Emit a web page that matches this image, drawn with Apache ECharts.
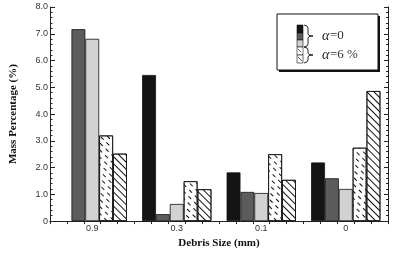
<!DOCTYPE html>
<html>
<head>
<meta charset="utf-8">
<script src="https://cdn.jsdelivr.net/npm/echarts@6/dist/echarts.min.js"></script>
<style>
  html, body { margin: 0; padding: 0; background: #fff; }
  #app { width: 394px; height: 254px; }
</style>
</head>
<body>
<div id="app"></div>
<script>
const categories = ['0.9', '0.3', '0.1', '0']
const black = [null, 5.46, 1.82, 2.19]
const darkGray = [7.17, 0.26, 1.09, 1.6]
const lightGray = [6.81, 0.64, 1.05, 1.2]
const dashHatch = [3.2, 1.49, 2.5, 2.74]
const diagHatch = [2.52, 1.19, 1.54, 4.86]
const yTickLabels = ['0', '1.0', '2.0', '3.0', '4.0', '5.0', '6.0', '7.0', '8.0']

const chart = echarts.init(document.getElementById('app'))

const serif = '"Liberation Serif", "DejaVu Serif", serif'
const tickFont = { fontFamily: '"Liberation Sans", sans-serif', fontSize: 9, color: '#333' }

const lineDecal = {
  symbol: 'rect',
  symbolSize: 1,
  color: '#111',
  dashArrayX: [1, 0],
  dashArrayY: [1, 4],
  rotation: Math.PI / 4
}
const dashDecal = {
  symbol: 'rect',
  symbolSize: 1,
  color: '#111',
  dashArrayX: [[4, 4], [0, 4, 4, 0]],
  dashArrayY: [1, 3.5],
  rotation: Math.PI / 4
}

function bar(name, data, color, decal) {
  return {
    type: 'bar',
    name: name,
    data: data,
    barGap: '0%',
    barCategoryGap: '18%',
    itemStyle: {
      color: color,
      borderColor: '#111',
      borderWidth: 0.8,
      decal: decal
    }
  }
}

// curly brace as polyline, pointing right
function brace(x, y0, y1) {
  const m = (y0 + y1) / 2
  return {
    type: 'polyline',
    shape: {
      points: [[x, y0], [x + 3, y0 + 1], [x + 4, y0 + 3], [x + 4, m - 2], [x + 5, m - 0.5], [x + 9, m],
        [x + 5, m + 0.5], [x + 4, m + 2], [x + 4, y1 - 3], [x + 3, y1 - 1], [x, y1]]
    },
    style: { stroke: '#111', lineWidth: 0.9, fill: null }
  }
}

chart.setOption({
  animation: false,
  grid: { left: 48, right: 6, top: 7, bottom: 26 },
  xAxis: [
    {
      type: 'category',
      data: categories,
      name: 'Debris Size (mm)',
      nameLocation: 'middle',
      nameGap: 15,
      nameTextStyle: { fontFamily: serif, fontWeight: 'bold', fontSize: 11, color: '#111' },
      axisLine: { lineStyle: { color: '#222', width: 1 } },
      axisTick: { inside: true, length: 4, lineStyle: { color: '#222' } },
      axisLabel: Object.assign({ margin: 3 }, tickFont)
    },
    {
      type: 'value',
      position: 'top',
      min: 0,
      max: 20,
      interval: 1,
      axisLine: { show: true, lineStyle: { color: '#222' } },
      axisTick: { inside: true, length: 3, lineStyle: { color: '#222' } },
      axisLabel: { show: false },
      splitLine: { show: false }
    }
  ],
  yAxis: [
    {
      type: 'value',
      min: 0,
      max: 8,
      interval: 1,
      name: 'Mass Percentage (%)',
      nameLocation: 'middle',
      nameGap: 31,
      nameTextStyle: { fontFamily: serif, fontWeight: 'bold', fontSize: 11, color: '#111' },
      axisLine: { show: true, lineStyle: { color: '#222' } },
      axisTick: { show: true, inside: true, length: 5, lineStyle: { color: '#222' } },
      minorTick: { show: true, splitNumber: 5, length: 2.5, lineStyle: { color: '#222' } },
      splitLine: { show: false },
      axisLabel: Object.assign({ margin: 2, formatter: (v) => yTickLabels[Math.round(v)] }, tickFont)
    },
    {
      type: 'value',
      position: 'right',
      min: 0,
      max: 8,
      interval: 1,
      axisLine: { show: true, lineStyle: { color: '#222' } },
      axisTick: { show: true, inside: true, length: 4, lineStyle: { color: '#222' } },
      minorTick: { show: true, splitNumber: 5, length: 2, lineStyle: { color: '#222' } },
      splitLine: { show: false },
      axisLabel: { show: false }
    }
  ],
  series: [
    bar('black', black, '#141414'),
    bar('darkGray', darkGray, '#5c5c5c'),
    bar('lightGray', lightGray, '#d2d2d2'),
    bar('dashHatch', dashHatch, '#fff', dashDecal),
    bar('diagHatch', diagHatch, '#fff', lineDecal)
  ],
  graphic: [
    { type: 'rect', shape: { x: 279, y: 16, width: 101, height: 56 }, style: { fill: '#111' } },
    { type: 'rect', shape: { x: 277, y: 14, width: 101, height: 56 }, style: { fill: '#fff', stroke: '#111', lineWidth: 1 } },
    { type: 'rect', shape: { x: 297, y: 25, width: 6, height: 8 }, style: { fill: '#141414', stroke: '#111', lineWidth: 0.6 } },
    { type: 'rect', shape: { x: 297, y: 33, width: 6, height: 7 }, style: { fill: '#5c5c5c', stroke: '#111', lineWidth: 0.6 } },
    { type: 'rect', shape: { x: 297, y: 40, width: 6, height: 7 }, style: { fill: '#d2d2d2', stroke: '#111', lineWidth: 0.6 } },
    { type: 'rect', shape: { x: 297, y: 47, width: 6, height: 8 }, style: { fill: '#fff', stroke: '#111', lineWidth: 0.6 } },
    { type: 'rect', shape: { x: 297, y: 55, width: 6, height: 8 }, style: { fill: '#fff', stroke: '#111', lineWidth: 0.6 } },
    { type: 'line', shape: { x1: 298, y1: 49, x2: 301, y2: 52 }, style: { stroke: '#111', lineWidth: 0.7 } },
    { type: 'line', shape: { x1: 298, y1: 57, x2: 302, y2: 61 }, style: { stroke: '#111', lineWidth: 0.7 } },
    brace(304, 25, 47),
    brace(304, 47, 63),
    { type: 'text', x: 322, y: 29, style: { text: 'α', fontFamily: serif, fontStyle: 'italic', fontSize: 14, fill: '#222' } },
    { type: 'text', x: 330, y: 29, style: { text: '=0', fontFamily: serif, fontSize: 13, fill: '#333' } },
    { type: 'text', x: 322, y: 48, style: { text: 'α', fontFamily: serif, fontStyle: 'italic', fontSize: 14, fill: '#222' } },
    { type: 'text', x: 330, y: 48, style: { text: '=6 %', fontFamily: serif, fontSize: 13, fill: '#333' } }
  ]
})
</script>
</body>
</html>
